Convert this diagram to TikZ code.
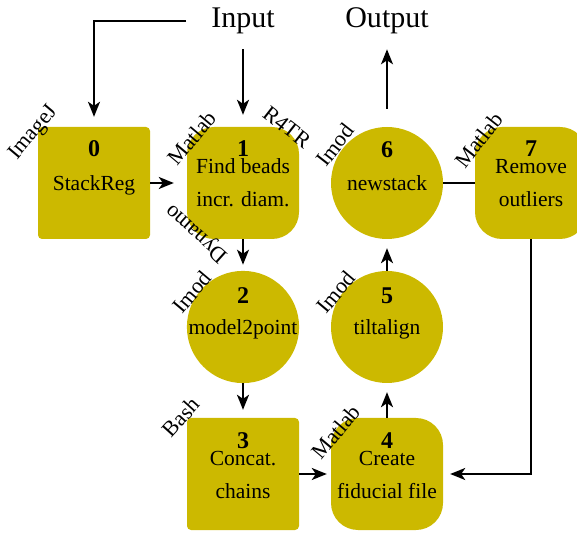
\documentclass[tikz,border=0pt]{standalone}
\usepackage{fontspec}
\setmainfont{Liberation Serif}
\usepackage{tikz}
\usetikzlibrary{arrows.meta, calc}

\definecolor{mustard}{RGB}{204,185,0}

\begin{document}
\begin{tikzpicture}[x=1pt, y=1pt, >={Stealth[length=15pt, width=12pt, inset=4pt]},
    every node/.style={font=\fontsize{21.5}{33}\selectfont},
    block/.style={fill=mustard, align=center, inner sep=0pt, minimum width=112pt, minimum height=112pt},
    oneline/.style={text height=22pt, text depth=6pt},
    twoline/.style={text height=52pt, text depth=4pt},
    num/.style={anchor=base, inner sep=0pt, font=\fontsize{24}{24}\selectfont\bfseries},
    tool/.style={inner sep=0pt, font=\fontsize{22}{26}\selectfont},
    io/.style={inner sep=0pt, font=\fontsize{30}{36}\selectfont},
    post/.style={->, line width=1.8pt}]

    \useasboundingbox (0,0) rectangle (577,532);

    % processing steps
    \node [block, oneline, rounded corners=4pt] (SR) at (94,349) {StackReg};
    \node [block, twoline, rounded corners=27pt] (FB)
        [right of=SR, node distance=149pt] {Find beads\\incr. diam.};
    \node [block, oneline, circle, minimum size=112pt] (NS)
        [right of=FB, node distance=144pt] {newstack};
    \node [block, twoline, rounded corners=27pt] (RO)
        [right of=NS, node distance=144pt] {Remove\\outliers};
    \node [block, oneline, circle, minimum size=112pt] (MP)
        [below of=FB, node distance=144pt] {model2point};
    \node [block, twoline, rounded corners=4pt] (CC)
        [below of=MP, node distance=147pt] {Concat.\\chains};
    \node [block, oneline, circle, minimum size=112pt] (TA)
        [below of=NS, node distance=144pt] {tiltalign};
    \node [block, twoline, rounded corners=27pt] (CF)
        [below of=TA, node distance=147pt] {Create\\fiducial file};

    % step numbers
    \node [num] (SRn) at ($(SR)+(0,26)$) {0};
    \node [num] (FBn) at ($(FB)+(0,26)$) {1};
    \node [num] (MPn) at ($(MP)+(0,23)$) {2};
    \node [num] (CCn) at ($(CC)+(0,26)$) {3};
    \node [num] (CFn) at ($(CF)+(0,26)$) {4};
    \node [num] (TAn) at ($(TA)+(0,23)$) {5};
    \node [num] (NSn) at ($(NS)+(0,25)$) {6};
    \node [num] (ROn) at ($(RO)+(0,26)$) {7};

    % software used for each step
    \node [tool, rotate=50] (SRt) at ($(SR)+(-60,50)$) {ImageJ};
    \node [tool, rotate=50] (FBt) at ($(FB)+(-51,45)$) {Matlab};
    \node [tool, rotate=-38] (FBr) at ($(FB)+(44,56)$) {R4TR};
    \node [tool, rotate=138] (FBd) at ($(FB)+(-46,-50)$) {Dynamo};
    \node [tool, rotate=50] (MPt) at ($(MP)+(-51,35)$) {Imod};
    \node [tool, rotate=48] (CCt) at ($(CC)+(-62,57)$) {Bash};
    \node [tool, rotate=50] (CFt) at ($(CF)+(-51,42)$) {Matlab};
    \node [tool, rotate=50] (TAt) at ($(TA)+(-51,35)$) {Imod};
    \node [tool, rotate=52] (NSt) at ($(NS)+(-52,38)$) {Imod};
    \node [tool, rotate=52] (ROt) at ($(RO)+(-52,43)$) {Matlab};

    \node [io] (IN) [above of=FB, node distance=162pt] {Input};
    \node [io] (OUT) [above of=NS, node distance=162pt] {Output};

    % flow
    \draw[post, shorten <=25pt, shorten >=10pt] (IN.west) -| (SR.north);
    \draw[post, shorten <=15pt, shorten >=12pt] (IN) -- (FB);
    \draw[post, shorten >=13pt] (SR) -- (FB);
    \draw[post, shorten >=6pt] (FB) -- (MP);
    \draw[post, shorten >=8pt] (MP) -- (CC);
    \draw[post, shorten >=4pt] (CC) -- (CF);
    \draw[post, shorten >=9pt] (CF) -- (TA);
    \draw[post, shorten >=9pt] (TA) -- (NS);
    \draw[post, shorten <=18pt, shorten >=15pt] (NS) -- (OUT);
    \draw[line width=1.8pt] (NS) -- (RO);
    \draw[post, shorten >=7pt] (RO.south) |- (CF.east);

\end{tikzpicture}
\end{document}
